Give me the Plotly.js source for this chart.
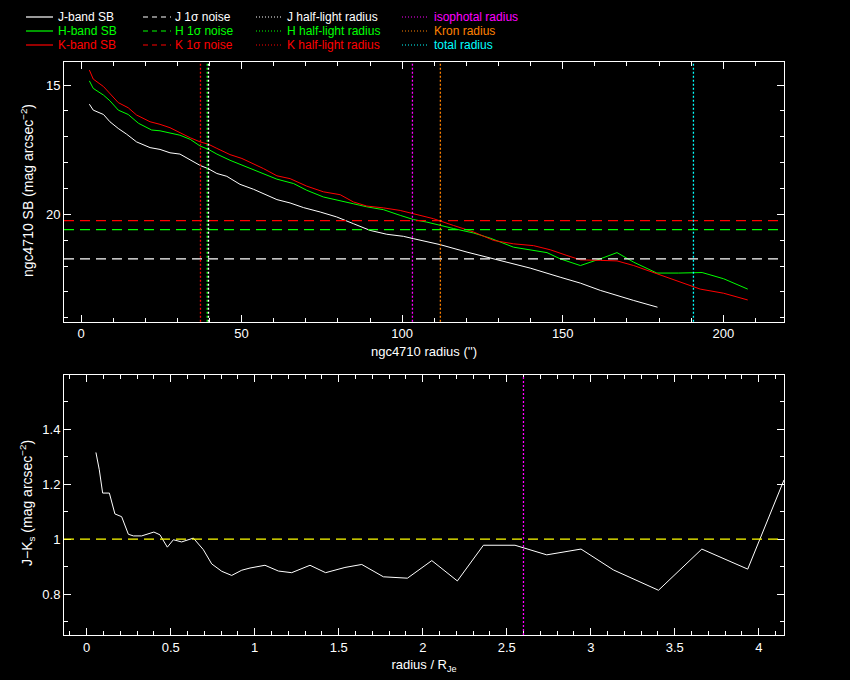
<!DOCTYPE html>
<html>
<head>
<meta charset="utf-8">
<script src="https://cdn.plot.ly/plotly-3.0.1.min.js"></script>
<style>
  html, body { margin: 0; padding: 0; background: #000; }
  #plot { width: 850px; height: 680px; }
</style>
</head>
<body>
<div id="plot"></div>
<script>
// ngc4710 surface brightness profiles (radius in arcsec, SB in mag arcsec^-2)
var rJ  = [2.6, 3.8, 7.0, 9.0, 11.6, 14.2, 17.3, 21.5, 24.6, 27.7, 30.8, 34.0, 37.1, 39.7, 42.3, 45.4, 49.5, 53.7, 56.8, 61.0, 65.1, 69.3, 74.5, 79.6, 84.8, 90.0, 95.2, 100.4, 103.5, 111.8, 120.2, 129.5, 139.9, 149.2, 155.5, 161.7, 166.9, 172.1, 179.5];
var sbJ = [15.74, 15.97, 16.14, 16.42, 16.68, 16.90, 17.20, 17.42, 17.49, 17.62, 17.67, 17.91, 18.11, 18.24, 18.42, 18.53, 18.84, 19.03, 19.20, 19.43, 19.56, 19.74, 19.91, 20.10, 20.36, 20.62, 20.77, 20.85, 20.94, 21.17, 21.46, 21.76, 22.08, 22.43, 22.66, 22.94, 23.14, 23.33, 23.59];

var rH  = [2.6, 3.8, 7.0, 9.0, 11.6, 14.7, 17.9, 22.0, 24.6, 27.7, 30.8, 34.0, 37.1, 39.7, 42.3, 46.4, 50.1, 53.7, 56.8, 61.0, 66.2, 70.3, 75.5, 80.7, 84.8, 89.0, 94.2, 99.4, 103.5, 107.7, 111.8, 116.0, 122.2, 127.4, 134.7, 138.8, 145.1, 149.2, 155.5, 161.7, 166.9, 172.1, 179.3, 186.1, 193.4, 200.1, 207.6];
var sbH = [14.84, 15.13, 15.39, 15.61, 15.97, 16.14, 16.48, 16.74, 16.77, 16.85, 16.94, 17.10, 17.36, 17.49, 17.67, 17.91, 18.10, 18.27, 18.42, 18.64, 18.81, 19.07, 19.33, 19.49, 19.59, 19.71, 19.82, 20.04, 20.20, 20.30, 20.43, 20.55, 20.72, 20.92, 21.27, 21.36, 21.48, 21.72, 21.98, 21.72, 21.48, 21.85, 22.27, 22.27, 22.25, 22.49, 22.89];

var rK  = [2.6, 3.8, 7.0, 9.0, 11.6, 14.7, 17.3, 21.5, 24.6, 27.7, 30.8, 34.0, 37.1, 39.7, 42.3, 46.4, 50.1, 53.7, 56.8, 61.0, 65.1, 70.3, 75.5, 80.7, 84.8, 89.0, 94.2, 99.4, 103.5, 109.8, 116.0, 122.2, 128.5, 134.7, 140.9, 146.1, 151.3, 155.5, 161.7, 166.9, 172.1, 179.3, 185.6, 192.8, 200.1, 207.6];
var sbK = [14.42, 14.77, 15.06, 15.32, 15.68, 15.88, 16.16, 16.42, 16.52, 16.65, 16.85, 17.04, 17.20, 17.29, 17.45, 17.69, 17.84, 18.04, 18.23, 18.51, 18.62, 18.91, 19.13, 19.24, 19.52, 19.68, 19.75, 19.85, 19.97, 20.17, 20.43, 20.68, 21.01, 21.14, 21.21, 21.37, 21.59, 21.76, 21.78, 21.80, 21.98, 22.30, 22.58, 22.89, 23.05, 23.31];

// 1 sigma noise levels (mag arcsec^-2)
var noiseJ = 21.72, noiseH = 20.59, noiseK = 20.24;

// radii (arcsec)
var halfJ = 39.7, halfH = 39.3, halfK = 37.2;
var isoRadius = 103.2, kronRadius = 111.9, totalRadius = 190.7;

// J-Ks colour profile against radius / R_Je
var rScaled  = [0.055, 0.075, 0.095, 0.135, 0.168, 0.208, 0.248, 0.278, 0.327, 0.40, 0.436, 0.48, 0.516, 0.565, 0.635, 0.694, 0.744, 0.804, 0.863, 0.923, 0.972, 1.061, 1.141, 1.220, 1.329, 1.422, 1.537, 1.637, 1.766, 1.845, 1.909, 2.054, 2.206, 2.361, 2.549, 2.738, 2.942, 3.135, 3.403, 3.661, 3.934, 4.15];
var colourJK = [1.316, 1.253, 1.168, 1.168, 1.092, 1.082, 1.018, 1.012, 1.012, 1.026, 1.016, 0.971, 0.998, 0.990, 1.004, 0.962, 0.910, 0.883, 0.868, 0.887, 0.895, 0.905, 0.884, 0.878, 0.905, 0.878, 0.897, 0.908, 0.863, 0.861, 0.858, 0.922, 0.848, 0.978, 0.978, 0.943, 0.964, 0.888, 0.814, 0.964, 0.891, 1.216];
var colourRef = 1;

var WHITE = '#ffffff', GREEN = '#00ff00', RED = '#ff0000';
var MAGENTA = '#ff00ff', ORANGE = '#ff8000', CYAN = '#00ffff', YELLOW = '#ffff00';
var DASH = '10px,6px', DOT = '2px,2px';

function profile(x, y, col) {
  return {x: x, y: y, xaxis: 'x', yaxis: 'y', type: 'scatter', mode: 'lines',
          line: {color: col, width: 1}, hoverinfo: 'skip'};
}

var data = [
  profile(rJ, sbJ, WHITE),
  profile(rH, sbH, GREEN),
  profile(rK, sbK, RED),
  {x: rScaled, y: colourJK, xaxis: 'x2', yaxis: 'y2', type: 'scatter', mode: 'lines',
   line: {color: WHITE, width: 1}, hoverinfo: 'skip'}
];

function hline(xa, ya, y, col) {
  return {type: 'line', xref: xa + ' domain', yref: ya, x0: 0, x1: 1, y0: y, y1: y,
          line: {color: col, width: 1.3, dash: DASH}};
}
function vline(xa, ya, x, col) {
  return {type: 'line', xref: xa, yref: ya + ' domain', x0: x, x1: x, y0: 0, y1: 1,
          line: {color: col, width: 1.3, dash: DOT}};
}

var shapes = [
  hline('x', 'y', noiseJ, WHITE),
  hline('x', 'y', noiseH, GREEN),
  hline('x', 'y', noiseK, RED),
  vline('x', 'y', halfK, RED),
  vline('x', 'y', halfH, GREEN),
  vline('x', 'y', halfJ, WHITE),
  vline('x', 'y', isoRadius, MAGENTA),
  vline('x', 'y', kronRadius, ORANGE),
  vline('x', 'y', totalRadius, CYAN),
  hline('x2', 'y2', colourRef, YELLOW),
  vline('x2', 'y2', isoRadius / halfJ, MAGENTA)
];

// legend drawn above the plots, 4 columns x 3 rows
var M = {l: 64, r: 66, t: 62, b: 45};
var W = 850, H = 680;
function px(x) { return (x - M.l) / (W - M.l - M.r); }
function py(y) { return (H - M.b - y) / (H - M.t - M.b); }

var legendCols = [
  {x0: 26, x1: 53, tx: 56, dash: 'solid',
   items: [['J-band SB', WHITE], ['H-band SB', GREEN], ['K-band SB', RED]]},
  {x0: 143, x1: 171, tx: 173, dash: '5px,4px',
   items: [['J 1σ noise', WHITE], ['H 1σ noise', GREEN], ['K 1σ noise', RED]]},
  {x0: 256, x1: 281, tx: 285, dash: '1px,2px',
   items: [['J half-light radius', WHITE], ['H half-light radius', GREEN], ['K half-light radius', RED]]},
  {x0: 402, x1: 427, tx: 432, dash: '1px,2px',
   items: [['isophotal radius', MAGENTA], ['Kron radius', ORANGE], ['total radius', CYAN]]}
];
var legendRows = [17, 31, 45];

var annotations = [];
legendCols.forEach(function (c) {
  c.items.forEach(function (it, i) {
    var y = legendRows[i];
    shapes.push({type: 'line', xref: 'paper', yref: 'paper',
                 x0: px(c.x0), x1: px(c.x1), y0: py(y), y1: py(y),
                 line: {color: it[1], width: 1.2, dash: c.dash}});
    annotations.push({xref: 'paper', yref: 'paper', x: px(c.tx), y: py(y),
                      xanchor: 'left', yanchor: 'middle', showarrow: false,
                      text: it[0], font: {color: it[1], size: 12}});
  });
});

// y-axis titles, placed as rotated text left of each panel
annotations.push({xref: 'paper', yref: 'paper', x: px(27), y: py(191),
                  xanchor: 'center', yanchor: 'middle', textangle: -90, showarrow: false,
                  text: 'ngc4710 SB (mag arcsec<sup>−2</sup>)', font: {size: 14, color: WHITE}});
annotations.push({xref: 'paper', yref: 'paper', x: px(27), y: py(503),
                  xanchor: 'center', yanchor: 'middle', textangle: -90, showarrow: false,
                  text: 'J−K<sub>s</sub> (mag arcsec<sup>−2</sup>)', font: {size: 14, color: WHITE}});

function axisStyle(extra) {
  var a = {
    showline: true, linecolor: WHITE, linewidth: 1, mirror: 'allticks',
    ticks: 'inside', ticklen: 7, tickcolor: WHITE, tickwidth: 1,
    showgrid: false, zeroline: false, tickfont: {size: 13, color: WHITE},
    automargin: false
  };
  for (var k in extra) a[k] = extra[k];
  return a;
}

var layout = {
  width: W, height: H,
  paper_bgcolor: '#000', plot_bgcolor: '#000',
  font: {family: '"Liberation Sans", "DejaVu Sans", sans-serif', size: 12, color: WHITE},
  margin: M,
  showlegend: false,
  xaxis: axisStyle({
    domain: [0, 1], anchor: 'y', range: [-5.3, 218.9], tick0: 0, dtick: 50,
    minor: {dtick: 10, ticklen: 4, ticks: 'inside', tickcolor: WHITE, showgrid: false},
    title: {text: "ngc4710 radius ('')", standoff: 6, font: {size: 13}}
  }),
  yaxis: axisStyle({
    domain: [0.5468, 1], anchor: 'x', range: [24.15, 14.11], tick0: 0, dtick: 5,
    minor: {dtick: 1, ticklen: 4, ticks: 'inside', tickcolor: WHITE, showgrid: false}
  }),
  xaxis2: axisStyle({
    domain: [0, 1], anchor: 'y2', range: [-0.135, 4.15], tick0: 0, dtick: 0.5,
    minor: {dtick: 0.1, ticklen: 4, ticks: 'inside', tickcolor: WHITE, showgrid: false},
    title: {text: 'radius / R<sub>Je</sub>', standoff: 6, font: {size: 13}}
  }),
  yaxis2: axisStyle({
    domain: [0, 0.4532], anchor: 'x2', range: [0.651, 1.597], tick0: 0, dtick: 0.2,
    minor: {dtick: 0.1, ticklen: 4, ticks: 'inside', tickcolor: WHITE, showgrid: false}
  }),
  shapes: shapes,
  annotations: annotations
};

Plotly.newPlot('plot', data, layout, {staticPlot: true, displayModeBar: false});
</script>
</body>
</html>
